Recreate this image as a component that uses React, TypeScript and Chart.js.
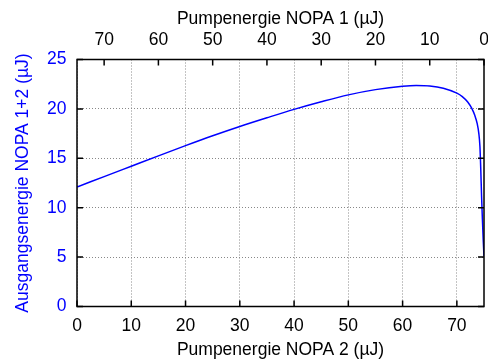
import { useEffect, useRef } from 'react';
import { Chart, registerables } from 'chart.js';

Chart.register(...registerables);

// Pump energy of NOPA 2 (µJ) and the combined output energy of NOPA 1+2 (µJ)
const pumpNopa2 = [0, 5, 10, 15, 20, 25, 30, 35, 40, 45, 50, 55, 60, 62.5, 65, 67.5, 70, 71, 72, 72.75, 73.3, 73.75, 74.05, 74.25, 74.4, 74.55, 74.7, 74.85, 75];
const outputEnergy = [12.1, 13.15, 14.2, 15.25, 16.28, 17.28, 18.22, 19.1, 19.95, 20.72, 21.42, 21.95, 22.3, 22.38, 22.33, 22.1, 21.6, 21.25, 20.7, 20.05, 19.35, 18.5, 17.5, 16.2, 14.0, 11.2, 8.9, 6.8, 5.1];

// Tick values of the three axes
const bottomTicks = [0, 10, 20, 30, 40, 50, 60, 70];
const topTicks = [70, 60, 50, 40, 30, 20, 10, 0];
const yTicks = [0, 5, 10, 15, 20, 25];

const BLUE = '#0000ff';
const FONT = { family: '"Liberation Sans", Arial, Helvetica, sans-serif', size: 17.5 };

// Black frame around the plot with short tick marks pointing inward
const framePlugin = {
  id: 'frame',
  afterDraw(chart: any) {
    const { ctx, chartArea: a, scales } = chart;
    const len = 6;
    ctx.save();
    ctx.strokeStyle = '#000';
    ctx.lineWidth = 1.5;
    ctx.beginPath();
    for (const v of bottomTicks) {
      const x = scales.x.getPixelForValue(v);
      ctx.moveTo(x, a.bottom);
      ctx.lineTo(x, a.bottom - len);
    }
    for (const v of topTicks) {
      const x = scales.x2.getPixelForValue(v);
      ctx.moveTo(x, a.top);
      ctx.lineTo(x, a.top + len);
    }
    for (const v of yTicks) {
      const y = scales.y.getPixelForValue(v);
      ctx.moveTo(a.left, y);
      ctx.lineTo(a.left + len, y);
      ctx.moveTo(a.right, y);
      ctx.lineTo(a.right - len, y);
    }
    ctx.stroke();
    ctx.strokeRect(a.left, a.top, a.right - a.left, a.bottom - a.top);
    ctx.restore();
  },
};

export default function App() {
  const canvasRef = useRef<HTMLCanvasElement>(null);

  useEffect(() => {
    const canvas = canvasRef.current;
    if (!canvas) return;
    const chart = new Chart(canvas, {
      type: 'line',
      data: {
        datasets: [
          {
            data: pumpNopa2.map((x, i) => ({ x, y: outputEnergy[i] })),
            borderColor: BLUE,
            borderWidth: 1.5,
            pointRadius: 0,
            fill: false,
            cubicInterpolationMode: 'monotone',
            xAxisID: 'x',
            yAxisID: 'y',
          },
        ],
      },
      options: {
        responsive: false,
        animation: false,
        devicePixelRatio: 1,
        layout: { padding: { left: 0, right: 4, top: 0, bottom: 0 } },
        plugins: { legend: { display: false }, tooltip: { enabled: false } },
        scales: {
          x: {
            type: 'linear',
            position: 'bottom',
            min: 0,
            max: 75,
            afterBuildTicks: (s: any) => {
              s.ticks = bottomTicks.map((value) => ({ value }));
            },
            afterFit: (s: any) => {
              s.height = 56.5;
              s.paddingLeft = 0;
              s.paddingRight = 0;
            },
            ticks: { color: '#000', font: FONT, padding: 9.5, maxRotation: 0 },
            grid: { drawTicks: false, color: '#888', lineWidth: 1 },
            border: { display: false, dash: [1, 2] },
            title: {
              display: true,
              text: 'Pumpenergie NOPA 2 (µJ)',
              color: '#000',
              font: FONT,
              padding: { top: 0, bottom: 2.5 },
            },
          },
          x2: {
            type: 'linear',
            position: 'top',
            reverse: true,
            min: 0,
            max: 75,
            afterBuildTicks: (s: any) => {
              s.ticks = topTicks.map((value) => ({ value }));
            },
            afterFit: (s: any) => {
              s.height = 59.5;
              s.paddingLeft = 0;
              s.paddingRight = 0;
            },
            ticks: { color: '#000', font: FONT, padding: 9, maxRotation: 0 },
            grid: { display: false, drawTicks: false },
            border: { display: false },
            title: {
              display: true,
              text: 'Pumpenergie NOPA 1 (µJ)',
              color: '#000',
              font: FONT,
              padding: { top: 8.5, bottom: 0 },
            },
          },
          y: {
            type: 'linear',
            position: 'left',
            min: 0,
            max: 25,
            afterBuildTicks: (s: any) => {
              s.ticks = yTicks.map((value) => ({ value }));
            },
            afterFit: (s: any) => {
              s.width = 77;
            },
            ticks: { color: BLUE, font: FONT, padding: 10.5 },
            grid: { drawTicks: false, color: '#888', lineWidth: 1 },
            border: { display: false, dash: [1, 2] },
            title: {
              display: true,
              text: 'Ausgangsenergie NOPA 1+2 (µJ)',
              color: BLUE,
              font: FONT,
              padding: { top: 12.5, bottom: 0 },
            },
          },
        },
      },
      plugins: [framePlugin],
    } as any);
    return () => chart.destroy();
  }, []);

  return (
    <div style={{ position: 'absolute', left: 0, top: 0, width: 488, height: 363, background: '#fff' }}>
      <canvas ref={canvasRef} width={488} height={363} />
    </div>
  );
}
